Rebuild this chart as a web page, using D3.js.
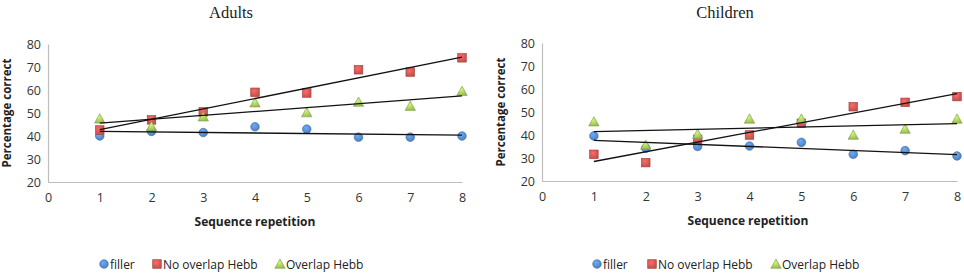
<!DOCTYPE html>
<html>
<head>
<meta charset="utf-8">
<script src="https://cdn.jsdelivr.net/npm/d3@7"></script>
<style>
  body { margin: 0; background: #fff; }
  svg { display: block; }
</style>
</head>
<body>
<svg width="964" height="276"></svg>
<script>
const reps = [1, 2, 3, 4, 5, 6, 7, 8];
const xTicks = [0, 1, 2, 3, 4, 5, 6, 7, 8];
const yTicks = [20, 30, 40, 50, 60, 70, 80];
const seriesNames = ["filler", "No overlap Hebb", "Overlap Hebb"];

const adultsFiller    = [40, 42, 41.5, 44, 43, 39.5, 39.5, 40];
const adultsNoOverlap = [42.6, 47, 50.5, 59, 58.7, 68.8, 67.8, 74];
const adultsOverlap   = [47.5, 44.2, 48.4, 54.5, 50.2, 54.8, 53, 59.5];

const childFiller    = [39.6, 34.3, 35, 35.2, 36.8, 31.6, 33.2, 30.9];
const childNoOverlap = [31.6, 28, 38.1, 40, 45.1, 52.3, 54.2, 56.7];
const childOverlap   = [45.8, 35.7, 40.4, 47, 47, 40, 42.6, 47];

const svg = d3.select("svg");
const colors = ["#4f81bd", "#c0504d", "#9bbb59"];
const strokes = ["#3a6aa5", "#a33e3b", "#7f9c44"];
const sans = "'Open Sans', 'DejaVu Sans', sans-serif";

// radial gradients for the shiny marker look
const defs = svg.append("defs");
colors.forEach((c, i) => {
  const gr = defs.append("radialGradient").attr("id", "grad" + i)
    .attr("cx", "40%").attr("cy", "35%").attr("r", "65%");
  gr.append("stop").attr("offset", "0%").attr("stop-color", d3.color(c).brighter(0.8));
  gr.append("stop").attr("offset", "100%").attr("stop-color", c);
});

function fit(xs, ys) {
  const mx = d3.mean(xs), my = d3.mean(ys);
  const slope = d3.sum(xs, (x, i) => (x - mx) * (ys[i] - my)) / d3.sum(xs, x => (x - mx) ** 2);
  return x => my + slope * (x - mx);
}

function marker(sel, i) {
  if (i === 0) {
    sel.append("circle").attr("r", 4.3)
      .attr("fill", `url(#grad${i})`).attr("stroke", strokes[i]).attr("stroke-width", 0.6);
  } else if (i === 1) {
    sel.append("rect").attr("x", -4.3).attr("y", -4.3).attr("width", 8.6).attr("height", 8.6)
      .attr("fill", `url(#grad${i})`).attr("stroke", strokes[i]).attr("stroke-width", 0.6);
  } else {
    sel.append("path").attr("d", "M0,-5L5.2,4.3L-5.2,4.3Z")
      .attr("fill", `url(#grad${i})`).attr("stroke", strokes[i]).attr("stroke-width", 0.6);
  }
}

function panel(opt) {
  const x = d3.scaleLinear().domain([0, 8]).range([opt.x0, opt.x1]);
  const y = d3.scaleLinear().domain([20, 80]).range([opt.yBottom, opt.yTop]);
  const g = svg.append("g");

  g.append("text")
    .attr("x", opt.titleX).attr("y", 18)
    .attr("text-anchor", "middle")
    .style("font-family", "'Liberation Serif', 'Times New Roman', serif")
    .style("font-size", "16.5px").attr("fill", "#222")
    .text(opt.title);

  // axes
  const xa = g.append("g").attr("transform", `translate(0,${opt.yBottom})`)
    .call(d3.axisBottom(x).tickValues(xTicks).tickSize(0).tickPadding(11).tickFormat(d3.format("d")));
  const ya = g.append("g").attr("transform", `translate(${opt.x0},0)`)
    .call(d3.axisLeft(y).tickValues(yTicks).tickSize(0).tickPadding(7));
  [xa, ya].forEach(a => {
    a.select(".domain").attr("stroke", "#bdbdbd").attr("stroke-width", 1.2);
    a.selectAll("text").style("font-family", sans)
      .style("font-size", "12.5px").attr("fill", "#333");
  });

  g.append("text")
    .attr("transform", `translate(${opt.x0 - 37},${(opt.yTop + opt.yBottom) / 2}) rotate(-90)`)
    .attr("text-anchor", "middle")
    .style("font-family", sans).style("font-weight", "bold")
    .style("font-size", "11.5px").attr("fill", "#222")
    .text("Percentage correct");

  g.append("text")
    .attr("x", opt.xLabelX).attr("y", opt.yBottom + 44)
    .attr("text-anchor", "middle")
    .style("font-family", sans).style("font-weight", "bold")
    .style("font-size", "12px").attr("fill", "#222")
    .text("Sequence repetition");

  opt.series.forEach((vals, i) => {
    const pts = g.append("g");
    reps.forEach((r, j) => {
      const m = pts.append("g").attr("transform", `translate(${x(r)},${y(vals[j])})`);
      marker(m, i);
    });
  });

  // linear trend lines drawn on top
  opt.series.forEach(vals => {
    const f = fit(reps, vals);
    g.append("line")
      .attr("x1", x(1)).attr("y1", y(f(1)))
      .attr("x2", x(8)).attr("y2", y(f(8)))
      .attr("stroke", "#111").attr("stroke-width", 1.3);
  });

  // legend
  const lg = g.append("g").attr("transform", `translate(0,265)`);
  seriesNames.forEach((name, i) => {
    const item = lg.append("g").attr("transform", `translate(${opt.legendX[i]},0)`);
    marker(item.append("g").attr("transform", "translate(0,-1)"), i);
    item.append("text").attr("x", 6).attr("y", 4)
      .style("font-family", sans)
      .style("font-size", "12px").attr("fill", "#222")
      .text(name);
  });
}

panel({
  title: "Adults", titleX: 231,
  x0: 48, x1: 462, yTop: 44, yBottom: 182,
  xLabelX: 255,
  series: [adultsFiller, adultsNoOverlap, adultsOverlap],
  legendX: [104, 157, 280]
});

panel({
  title: "Children", titleX: 725,
  x0: 542, x1: 957, yTop: 43, yBottom: 181,
  xLabelX: 748,
  series: [childFiller, childNoOverlap, childOverlap],
  legendX: [597, 652, 776]
});
</script>
</body>
</html>
